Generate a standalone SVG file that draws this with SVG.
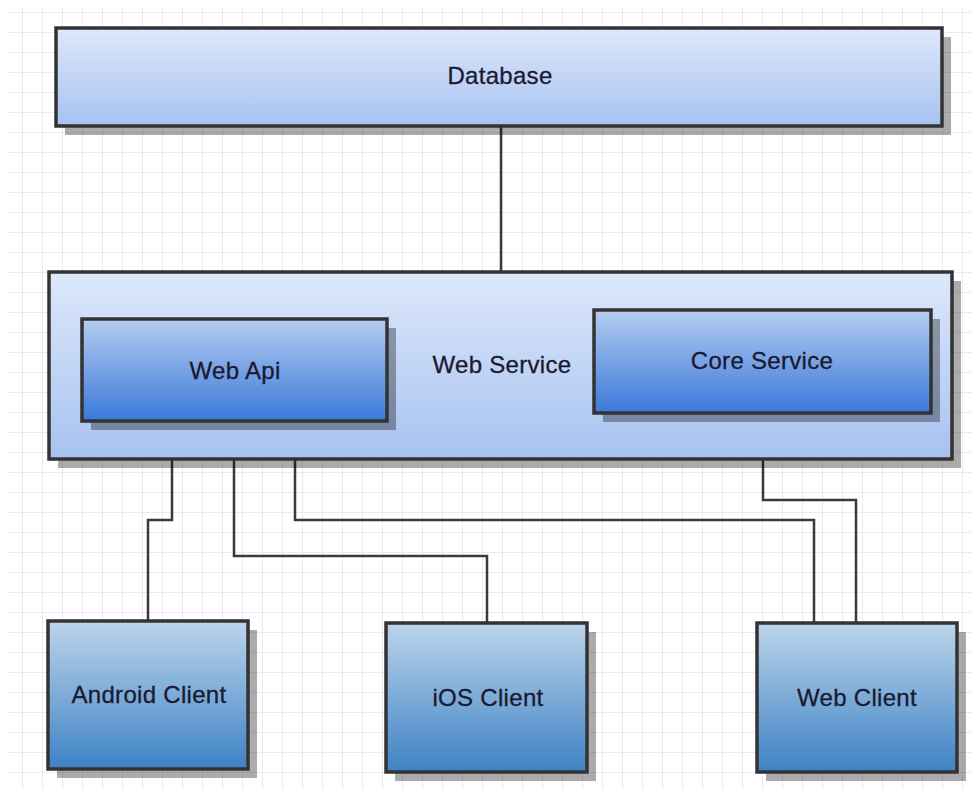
<svg xmlns="http://www.w3.org/2000/svg" width="972" height="789" viewBox="0 0 972 789">
<defs>
<pattern id="grid" x="3" y="12" width="20" height="20" patternUnits="userSpaceOnUse">
<path d="M20 0V20M0 0H20" fill="none" stroke="#e2e2f8" stroke-width="1.5"/>
</pattern>
<linearGradient id="gLight" x1="0" y1="0" x2="0" y2="1">
<stop offset="0" stop-color="#dde8fa"/><stop offset="1" stop-color="#a7c2f0"/>
</linearGradient>
<linearGradient id="gDark" x1="0" y1="0" x2="0" y2="1">
<stop offset="0" stop-color="#b5cdf1"/><stop offset="1" stop-color="#3a78d9"/>
</linearGradient>
<linearGradient id="gClient" x1="0" y1="0" x2="0" y2="1">
<stop offset="0" stop-color="#bdd5eb"/><stop offset="1" stop-color="#3d82c5"/>
</linearGradient>
</defs>
<style>
.box{stroke:#333;stroke-width:3.5}
.shadow{fill:#000;fill-opacity:0.33}
.lbl{font-family:"Liberation Sans",Arial,sans-serif;font-size:24px;letter-spacing:0.3px;fill:#1a1a30;stroke:#1a1a30;stroke-width:0.3;text-anchor:middle}
.conn{fill:none;stroke:#3a3a3a;stroke-width:2.5}
</style>
<rect x="8" y="8" width="964" height="781" fill="#fff"/>
<rect x="8" y="8" width="964" height="781" fill="url(#grid)"/>

<g id="connectors">
<path class="conn" d="M501 126V272"/>
<path class="conn" d="M172 421V520H148V621"/>
<path class="conn" d="M234 421V556H487V623"/>
<path class="conn" d="M295 421V520H814V623"/>
<path class="conn" d="M763 413V500H856V623"/>
</g>

<g id="database">
<rect class="shadow" x="65" y="37" width="886" height="98"/>
<rect class="box" x="56" y="28" width="886" height="98" fill="url(#gLight)"/>
<text class="lbl" x="500" y="84">Database</text>
</g>

<g id="web-service">
<rect class="shadow" x="58" y="281" width="903" height="187"/>
<rect class="box" x="49" y="272" width="903" height="187" fill="url(#gLight)"/>
<text class="lbl" x="502" y="373">Web Service</text>
</g>

<g id="web-api">
<rect class="shadow" x="91" y="328" width="305" height="102"/>
<rect class="box" x="82" y="319" width="305" height="102" fill="url(#gDark)"/>
<text class="lbl" x="235" y="379">Web Api</text>
</g>

<g id="core-service">
<rect class="shadow" x="603" y="319" width="337" height="103"/>
<rect class="box" x="594" y="310" width="337" height="103" fill="url(#gDark)"/>
<text class="lbl" x="762" y="369">Core Service</text>
</g>

<g id="android-client">
<rect class="shadow" x="57" y="630" width="200" height="148"/>
<rect class="box" x="48" y="621" width="200" height="148" fill="url(#gClient)"/>
<text class="lbl" x="149" y="703">Android Client</text>
</g>

<g id="ios-client">
<rect class="shadow" x="395" y="632" width="201" height="149"/>
<rect class="box" x="386" y="623" width="201" height="149" fill="url(#gClient)"/>
<text class="lbl" x="488" y="706">iOS Client</text>
</g>

<g id="web-client">
<rect class="shadow" x="766" y="632" width="200" height="149"/>
<rect class="box" x="757" y="623" width="200" height="149" fill="url(#gClient)"/>
<text class="lbl" x="857" y="706">Web Client</text>
</g>
</svg>
